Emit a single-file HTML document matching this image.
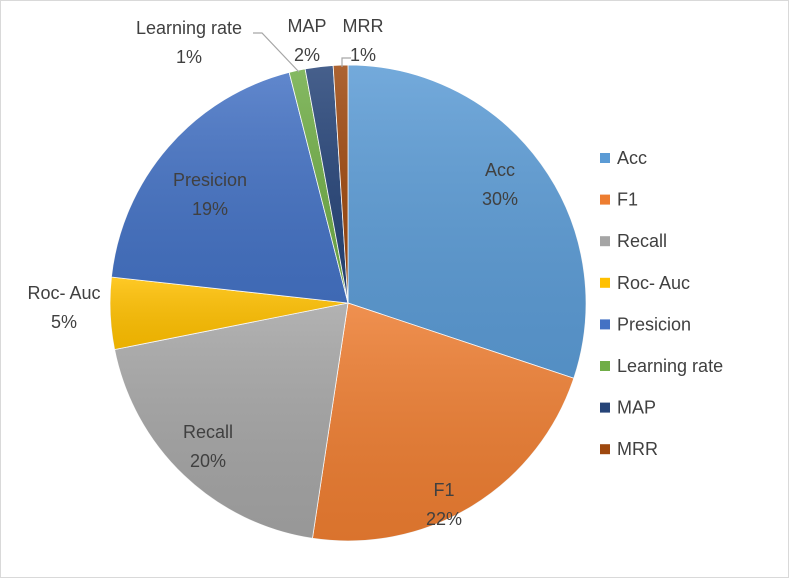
<!DOCTYPE html>
<html><head><meta charset="utf-8"><style>
body{margin:0;background:#fff}
svg{display:block;font-family:"Liberation Sans",sans-serif}
</style></head><body>
<svg width="789" height="578">
<defs>
<linearGradient id="g" x1="0" y1="0" x2="0" y2="1"><stop offset="0" stop-color="#fff" stop-opacity="0.15"/><stop offset="1" stop-color="#000" stop-opacity="0.08"/></linearGradient>
</defs>
<rect x="0.5" y="0.5" width="788" height="577" fill="#fff" stroke="#d9d9d9"/>
<g id="slices"></g>
<g id="labels" font-size="18" fill="#404040" text-anchor="middle"></g>
<polyline points="253,33 262,33 299,72" fill="none" stroke="#a6a6a6" stroke-width="1.2"/>
<polyline points="342,67 342,58 351,58" fill="none" stroke="#a6a6a6" stroke-width="1.2"/>
<g id="legend" font-size="18" fill="#404040"></g>
</svg>
<script>
const categories=["Acc","F1","Recall","Roc- Auc","Presicion","Learning rate","MAP","MRR"];
const values=[30.3,22.4,19.6,4.9,19.4,1.1,1.9,1.0];
const percentLabels=["30%","22%","20%","5%","19%","1%","2%","1%"];
const colors=["#5b9bd5","#ed7d31","#a5a5a5","#ffc000","#4472c4","#70ad47","#264478","#9e480e"];
const labelPos=[[500,170],[444,490],[208,432],[64,293],[210,180],[189,28],[307,26],[363,26]];
const NS="http://www.w3.org/2000/svg";
const cx=348,cy=303,r=238;
const total=values.reduce((a,b)=>a+b,0);
const sl=document.getElementById('slices');
let a=0;
function pt(ang){return [cx+r*Math.sin(ang),cy-r*Math.cos(ang)];}
values.forEach((v,i)=>{
  const a0=a/total*2*Math.PI; a+=v; const a1=a/total*2*Math.PI;
  const p0=pt(a0),p1=pt(a1);
  const d=`M${cx},${cy}L${p0[0]},${p0[1]}A${r},${r} 0 ${a1-a0>Math.PI?1:0} 1 ${p1[0]},${p1[1]}Z`;
  const p=document.createElementNS(NS,'path');
  p.setAttribute('d',d);p.setAttribute('fill',colors[i]);p.setAttribute('stroke','#fff');p.setAttribute('stroke-width','0.8');
  
  
  sl.appendChild(p);
  const o=document.createElementNS(NS,'path');o.setAttribute('d',d);o.setAttribute('fill','url(#g)');
  
  
  sl.appendChild(o);
});
const lb=document.getElementById('labels');
categories.forEach((c,i)=>{
  const t=document.createElementNS(NS,'text');
  const [x,y]=labelPos[i];
  t.setAttribute('x',x);t.setAttribute('y',y+6);
  t.innerHTML=`<tspan x="${x}">${c}</tspan><tspan x="${x}" dy="29">${percentLabels[i]}</tspan>`;
  
  
  lb.appendChild(t);
});
const lg=document.getElementById('legend');
categories.forEach((c,i)=>{
  const y=158+i*41.6;
  const g=document.createElementNS(NS,'g');
  
  
  g.innerHTML=`<rect x="600" y="${y-5}" width="10" height="10" fill="${colors[i]}"/><text x="617" y="${y+6}">${c}</text>`;
  lg.appendChild(g);
});
</script>
</body></html>
